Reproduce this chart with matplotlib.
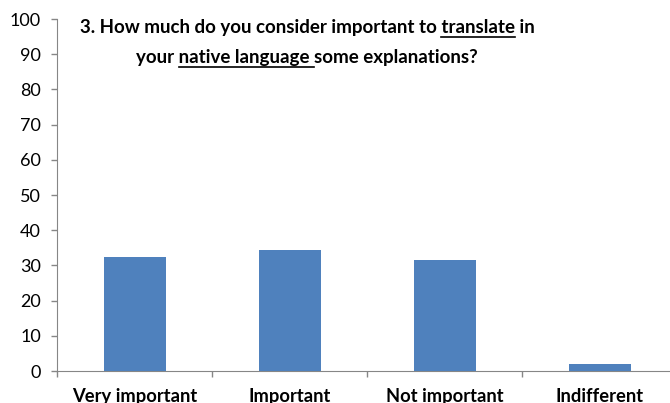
import matplotlib.pyplot as plt
from matplotlib.lines import Line2D

categories = ["Very important", "Important", "Not important", "Indifferent"]
values = [32.4, 34.3, 31.4, 1.9]
y_ticks = list(range(0, 101, 10))

# title split in pieces, True = underlined
title_lines = [
    [("3. How much do you consider important to ", False), ("translate", True), (" in", False)],
    [("your ", False), ("native language ", True), ("some explanations?", False)],
]

plt.rcParams['font.family'] = ['Lato', 'DejaVu Sans']

W, H = 670, 403
fig = plt.figure(figsize=(W / 100, H / 100), dpi=100)
ax = fig.add_axes([57 / W, 32 / H, 620 / W, 352 / H])

x = list(range(len(categories)))
ax.bar(x, values, width=0.4, color='#4F81BD', zorder=3)
ax.set_xlim(-0.5, 3.5)
ax.set_ylim(0, 100)

ax.set_yticks(y_ticks)
ax.tick_params(axis='y', length=4.5, width=1, color='#868686', labelsize=13, pad=7)

ax.set_xticks(x)
ax.set_xticklabels(categories, fontweight='bold', fontsize=13.2)
ax.tick_params(axis='x', which='major', length=0, pad=12)
ax.set_xticks([-0.5, 0.5, 1.5, 2.5, 3.5], minor=True)
ax.tick_params(axis='x', which='minor', length=4.5, width=1, color='#868686')

for s in ['top', 'right']:
    ax.spines[s].set_visible(False)
for s in ['left', 'bottom']:
    ax.spines[s].set_color('#868686')

# title, drawn by hand so parts can be underlined
renderer = fig.canvas.get_renderer()
title_kw = dict(fontsize=13.5, fontweight='bold')


def width_px(s):
    # trailing spaces count, so measure with a sentinel
    t = fig.text(0, 0, s + '|', **title_kw)
    w = t.get_window_extent(renderer).width
    t.remove()
    t = fig.text(0, 0, '|', **title_kw)
    w -= t.get_window_extent(renderer).width
    t.remove()
    return w


cx = 307
baselines = [33, 63]
for parts, base in zip(title_lines, baselines):
    full = ''.join(p for p, _ in parts)
    total = width_px(full)
    left = cx - total / 2
    fig.text(left / W, 1 - base / H, full, ha='left', va='baseline', **title_kw)
    pos = 0
    for piece, under in parts:
        w = width_px(piece)
        if under:
            y = 1 - (base + 3.5) / H
            fig.add_artist(Line2D([(left + pos) / W, (left + pos + w) / W], [y, y],
                                  color='black', linewidth=1.2))
        pos += w

fig.savefig('out.png', dpi=100)
